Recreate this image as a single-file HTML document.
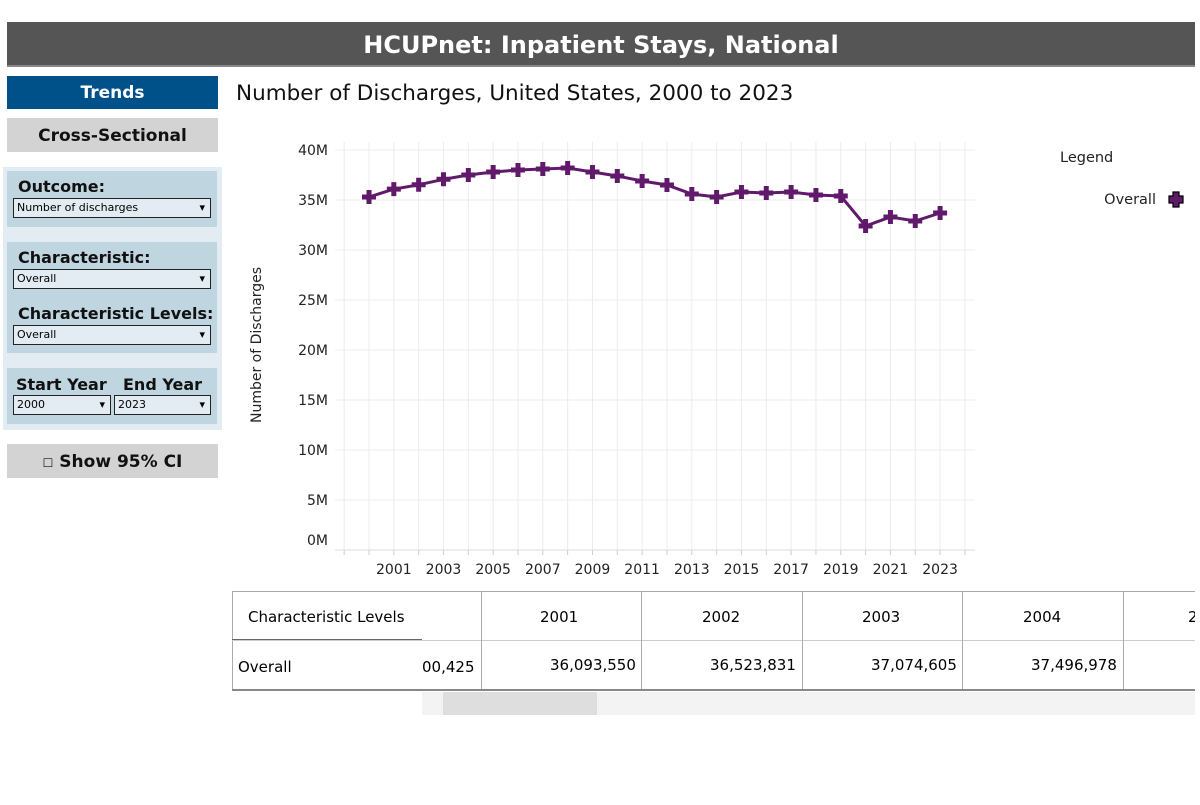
<!DOCTYPE html>
<html><head><meta charset="utf-8"><style>
body{margin:0;width:1200px;height:805px;background:#fff;font-family:"DejaVu Sans","Liberation Sans",sans-serif;position:relative;overflow:hidden}
.a{position:absolute;box-sizing:border-box}
.hdr{left:7px;top:22px;width:1188px;height:45px;background:#555;color:#fff;font-weight:bold;font-size:24px;text-align:center;line-height:46px;border-bottom:2px solid #888}
.btn{left:7px;width:211px;font-weight:bold;font-size:17px;text-align:center}
.lbl{font-weight:bold;font-size:16px;color:#111}
.sel{background:#e3ecf3;border:1px solid #222;height:20px;font-size:11px;line-height:18px;padding-left:3px}
.sel:after{content:"▾";position:absolute;right:5px;top:0;font-size:11px}
</style></head><body>
<div class="a hdr">HCUPnet: Inpatient Stays, National</div>
<div class="a btn" style="top:76px;height:33px;line-height:35px;background:#00508a;color:#fff">Trends</div>
<div class="a btn" style="top:118px;height:34px;line-height:36px;background:#d3d3d3;color:#111">Cross-Sectional</div>
<div class="a" style="left:3px;top:167px;width:219px;height:263px;background:#e3ecf3"></div>
<div class="a" style="left:7px;top:171px;width:210px;height:56px;background:#bfd5e0"></div>
<div class="a" style="left:7px;top:242px;width:210px;height:111px;background:#bfd5e0"></div>
<div class="a" style="left:7px;top:368px;width:210px;height:56px;background:#bfd5e0"></div>
<div class="a lbl" style="left:18px;top:177px">Outcome:</div>
<div class="a sel" style="left:13px;top:198px;width:198px">Number of discharges</div>
<div class="a lbl" style="left:18px;top:248px">Characteristic:</div>
<div class="a sel" style="left:13px;top:269px;width:198px">Overall</div>
<div class="a lbl" style="left:18px;top:304px">Characteristic Levels:</div>
<div class="a sel" style="left:13px;top:325px;width:198px">Overall</div>
<div class="a lbl" style="left:16px;top:375px">Start Year</div>
<div class="a lbl" style="left:123px;top:375px">End Year</div>
<div class="a sel" style="left:13px;top:395px;width:98px">2000</div>
<div class="a sel" style="left:114px;top:395px;width:97px">2023</div>
<div class="a btn" style="top:444px;height:34px;line-height:36px;background:#d3d3d3;color:#111"><span style="font-size:12px">☐</span> Show 95% CI</div>
<div class="a" style="left:236px;top:81px;font-size:21.5px;color:#111">Number of Discharges, United States, 2000 to 2023</div>
<svg class="a" style="left:0;top:0" width="1200" height="805">
<g stroke="#ececec" stroke-width="1" id="g"></g>
<g id="t" font-size="14" fill="#222"></g>
<text transform="translate(261,345) rotate(-90)" font-size="14" text-anchor="middle" fill="#222">Number of Discharges</text>
<polyline id="pl" fill="none" stroke="#611a6b" stroke-width="3"/>
<g id="m" fill="#611a6b"></g>
<text x="1060" y="162" font-size="14.5" fill="#222">Legend</text>
<text x="1156" y="204" font-size="14.5" fill="#222" text-anchor="end">Overall</text>
<path d="M1173 192h6v4h4v7h-4v4h-6v-4h-4v-7h4z" fill="#611a6b" stroke="#000" stroke-width="1.2"/>
</svg>
<div class="a" style="left:232px;top:591px;width:963px;height:100px;border-top:1px solid #aaa;border-bottom:2px solid #888;overflow:hidden">
<div class="a" style="left:0;top:0;width:1px;height:100px;background:#aaa"></div>
<div class="a" style="left:16px;top:16px;font-size:15px">Characteristic Levels</div>
<div class="a" style="left:0;top:47px;width:190px;height:1px;background:#666"></div>
<div class="a" style="left:0;top:48px;width:963px;height:1px;background:#ccc"></div>
<div class="a" style="left:6px;top:66px;font-size:15px">Overall</div>
<div class="a" style="left:190px;top:66px;font-size:15px">00,425</div>
<div class="a" style="left:249px;top:0;width:1px;height:100px;background:#aaa"></div>
<div class="a" style="left:409px;top:0;width:1px;height:100px;background:#aaa"></div>
<div class="a" style="left:570px;top:0;width:1px;height:100px;background:#aaa"></div>
<div class="a" style="left:730px;top:0;width:1px;height:100px;background:#aaa"></div>
<div class="a" style="left:891px;top:0;width:1px;height:100px;background:#aaa"></div>
<div class="a" style="left:308px;top:16px;font-size:15px">2001</div>
<div class="a" style="left:470px;top:16px;font-size:15px">2002</div>
<div class="a" style="left:630px;top:16px;font-size:15px">2003</div>
<div class="a" style="left:791px;top:16px;font-size:15px">2004</div>
<div class="a" style="left:956px;top:16px;font-size:15px">2</div>
<div class="a" style="left:318px;top:64px;font-size:15px">36,093,550</div>
<div class="a" style="left:478px;top:64px;font-size:15px">36,523,831</div>
<div class="a" style="left:639px;top:64px;font-size:15px">37,074,605</div>
<div class="a" style="left:799px;top:64px;font-size:15px">37,496,978</div>
</div>
<div class="a" style="left:422px;top:692px;width:773px;height:23px;background:#f3f3f3"></div>
<div class="a" style="left:443px;top:692px;width:154px;height:23px;background:#dedede"></div>
<script>
var v=[35.3,36.09,36.52,37.07,37.5,37.8,38.0,38.1,38.2,37.8,37.4,36.9,36.5,35.6,35.3,35.8,35.7,35.8,35.5,35.4,32.4,33.3,32.9,33.7];
var X=function(i){return 369+i*24.83},Y=function(x){return 550-x*10};
var g=document.getElementById('g'),t=document.getElementById('t'),m=document.getElementById('m'),s='',tt='',mm='',p=[];
for(var k=0;k<=8;k++){var y=550-k*50;s+='<line x1="335" x2="975" y1="'+y+'" y2="'+y+'"/>';tt+='<text x="328" y="'+(k==0?545:y+5)+'" text-anchor="end">'+(k*5)+'M</text>';}
for(var i=-1;i<=24;i++){var x=X(i);s+='<line x1="'+x+'" x2="'+x+'" y1="142" y2="550"/>';s+='<line x1="'+x+'" x2="'+x+'" y1="550" y2="555" stroke="#ccc"/>';if(i%2==1&&i<24)tt+='<text x="'+x+'" y="574" text-anchor="middle">'+(2000+i)+'</text>';}
s+='<line x1="335" x2="975" y1="550" y2="550" stroke="#ddd"/>';
v.forEach(function(d,i){var x=X(i),y=Y(d);p.push(x+','+y);mm+='<path d="M'+(x-2.5)+' '+(y-7)+'h5v4.5h4.5v5h-4.5v4.5h-5v-4.5h-4.5v-5h4.5z"/>';});
g.innerHTML=s;t.innerHTML=tt;m.innerHTML=mm;document.getElementById('pl').setAttribute('points',p.join(' '));
</script>
</body></html>
